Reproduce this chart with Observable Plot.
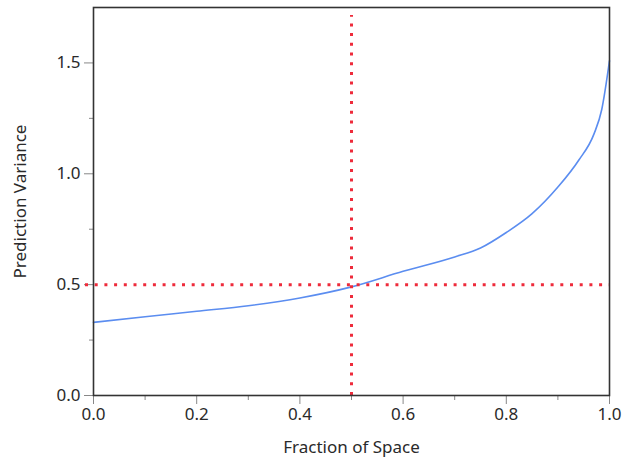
<!DOCTYPE html>
<html>
<head>
<meta charset="utf-8">
<script src="https://cdn.jsdelivr.net/npm/d3@7"></script>
<script src="https://cdn.jsdelivr.net/npm/@observablehq/plot@0.6"></script>
<style>
  html, body { margin: 0; padding: 0; background: #fff; }
  svg { display: block; }
</style>
</head>
<body>
<div id="chart"></div>
<script>
const fraction = [0, 0.1, 0.2, 0.3, 0.4, 0.5, 0.6, 0.7, 0.75, 0.8, 0.85, 0.9, 0.94, 0.97, 0.985, 1.0];
const variance = [0.33, 0.355, 0.38, 0.405, 0.44, 0.49, 0.56, 0.625, 0.665, 0.735, 0.82, 0.94, 1.06, 1.18, 1.29, 1.51];
const xMajor = [0, 0.2, 0.4, 0.6, 0.8, 1.0];
const xMinor = [0.1, 0.3, 0.5, 0.7, 0.9];
const yMajor = [0, 0.5, 1.0, 1.5];
const yMinor = [0.25, 0.75, 1.25];
const refX = 0.5;
const refY = 0.5;

const data = fraction.map((f, i) => ({x: f, y: variance[i]}));
const fmt = d3.format(".1f");
const red = "#ee2b3b";

const chart = Plot.plot({
  width: 627,
  height: 457,
  marginLeft: 93,
  marginRight: 18,
  marginTop: 7,
  marginBottom: 62,
  x: {domain: [0, 1]},
  y: {domain: [0, 1.75]},
  style: {fontFamily: "'Noto Sans', sans-serif", fontSize: "17px", color: "#2a2a2a"},
  marks: [
    Plot.axisX(xMinor, {tickSize: 5, text: null, stroke: "#888", label: null}),
    Plot.axisX(xMajor, {tickSize: 9, tickFormat: fmt, tickPadding: 3, stroke: "#888", fill: "#2a2a2a", fontSize: 17,
      label: "Fraction of Space", labelAnchor: "center", labelArrow: "none", labelOffset: 57}),
    Plot.axisY(yMinor, {tickSize: 4, text: null, stroke: "#888", label: null}),
    Plot.axisY(yMajor, {tickSize: 9, tickFormat: fmt, tickPadding: 4, stroke: "#888", fill: "#2a2a2a", fontSize: 17,
      label: "Prediction Variance", labelAnchor: "center", labelArrow: "none", labelOffset: 80}),
    Plot.line(data, {x: "x", y: "y", stroke: "#5b8df0", strokeWidth: 1.6, curve: "monotone-x"}),
    Plot.ruleY([refY], {stroke: red, strokeWidth: 3, strokeDasharray: "3,6.7", x1: 0, x2: 1, insetLeft: -8}),
    Plot.ruleX([refX], {stroke: red, strokeWidth: 3, strokeDasharray: "3,6.7", y1: 0, y2: 1.75, insetBottom: -8}),
    Plot.frame({stroke: "#333", strokeWidth: 1.6})
  ]
});
document.getElementById("chart").appendChild(chart);
</script>
</body>
</html>
